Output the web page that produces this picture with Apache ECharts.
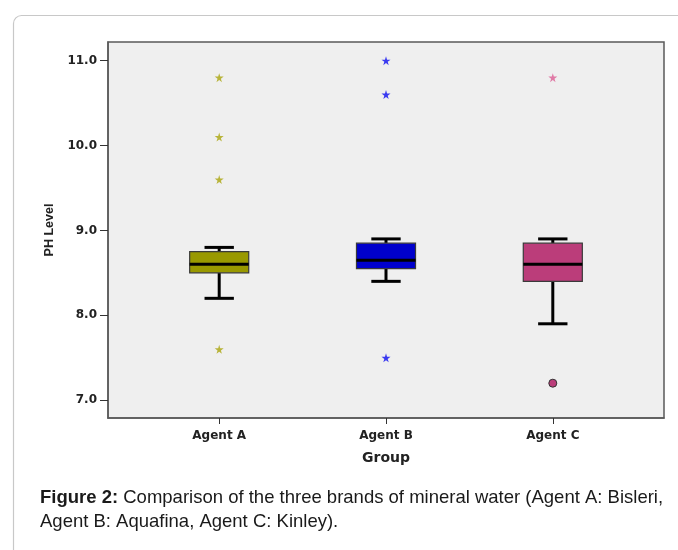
<!DOCTYPE html>
<html>
<head>
<meta charset="utf-8">
<script src="https://cdn.jsdelivr.net/npm/echarts@6/dist/echarts.min.js"></script>
<style>
html,body{margin:0;padding:0;background:#fff;}
#chart{width:678px;height:550px;}
</style>
</head>
<body>
<div id="chart"></div>
<script>
// ---- data ----
const categories = ['Agent A', 'Agent B', 'Agent C'];
const whiskerLow  = [8.2, 8.4, 7.9];
const q1Values    = [8.5, 8.55, 8.4];
const medianValues= [8.6, 8.65, 8.6];
const q3Values    = [8.75, 8.85, 8.85];
const whiskerHigh = [8.8, 8.9, 8.9];
const extremeA = [10.8, 10.1, 9.6, 7.6];   // stars
const extremeB = [11.0, 10.6, 7.5];        // stars
const extremeC = [10.8];                   // stars
const outlierC = [7.2];                    // circle
const yTicks = [7, 8, 9, 10, 11];
const xTicks = [1, 2, 3];

const boxColors = ['#999900', '#0000cc', '#bb3d7a'];
const starColors = ['#b8b43a', '#3a3af0', '#e07aa6'];

const boxData = categories.map((c, i) => [i + 1, whiskerLow[i], q1Values[i], medianValues[i], q3Values[i], whiskerHigh[i]]);

const starPath = 'path://M50,0 L61,35 L98,35 L68,57 L79,91 L50,70 L21,91 L32,57 L2,35 L39,35 Z';

function starSeries(vals, idx) {
  return {
    type: 'scatter',
    symbol: starPath,
    symbolSize: 9,
    itemStyle: { color: starColors[idx], opacity: 1 },
    data: vals.map(v => [idx + 1, v]),
    z: 5
  };
}

const chart = echarts.init(document.getElementById('chart'), null, { renderer: 'canvas' });
const axisFont = 'DejaVu Sans';

chart.setOption({
  animation: false,
  backgroundColor: '#ffffff',
  graphic: [
    { type: 'rect', left: 11, top: 13, shape: { width: 720, height: 600, r: 8 }, style: { fill: 'none', stroke: '#c8c8c8', lineWidth: 1.2 }, z: -10 },
    {
      type: 'text', left: 40, top: 486,
      style: {
        text: '{b|Figure 2:} Comparison of the three brands of mineral water (Agent A: Bisleri,\nAgent B: Aquafina, Agent C: Kinley).',
        font: '18.5px "Liberation Sans"',
        fill: '#1a1a1a',
        lineHeight: 24,
        rich: {
          b: { font: 'bold 18.5px "Liberation Sans"', fill: '#1a1a1a', lineHeight: 24 }
        }
      }
    }
  ],
  grid: {
    left: 108, top: 42, width: 556, height: 376,
    show: true, backgroundColor: '#efefef', borderColor: '#5a5a5a', borderWidth: 1.5
  },
  xAxis: {
    type: 'value', min: 1/3, max: 11/3,
    splitLine: { show: false },
    axisLine: { show: true, onZero: false, lineStyle: { color: '#5a5a5a', width: 1.5 } },
    axisTick: { show: true, customValues: xTicks, length: 6, lineStyle: { color: '#333', width: 1 } },
    axisLabel: {
      customValues: xTicks, formatter: v => categories[Math.round(v) - 1] || '',
      fontFamily: axisFont, fontWeight: 'bold', fontSize: 12, color: '#222', margin: 12
    },
    name: 'Group', nameLocation: 'middle', nameGap: 33,
    nameTextStyle: { fontFamily: axisFont, fontWeight: 'bold', fontSize: 14, color: '#222' }
  },
  yAxis: {
    type: 'value', min: 6.79, max: 11.22,
    splitLine: { show: false },
    axisLine: { show: true, lineStyle: { color: '#5a5a5a', width: 1.5 } },
    axisTick: { show: true, customValues: yTicks, length: 8, lineStyle: { color: '#333', width: 1 } },
    axisLabel: {
      customValues: yTicks, formatter: v => v.toFixed(1),
      fontFamily: axisFont, fontWeight: 'bold', fontSize: 12, color: '#222', margin: 11
    },
    name: 'PH Level', nameLocation: 'middle', nameRotate: 90, nameGap: 48,
    nameTextStyle: { fontFamily: 'Liberation Sans', fontWeight: 'bold', fontSize: 12.5, color: '#222' }
  },
  series: [
    {
      type: 'custom',
      data: boxData,
      z: 3,
      renderItem: function (params, api) {
        const x = api.value(0);
        const i = params.dataIndex;
        const boxW = api.size([0.354, 0])[0];
        const capW = api.size([0.176, 0])[0];
        const pLow = api.coord([x, api.value(1)]);
        const pQ1 = api.coord([x, api.value(2)]);
        const pMed = api.coord([x, api.value(3)]);
        const pQ3 = api.coord([x, api.value(4)]);
        const pHigh = api.coord([x, api.value(5)]);
        const cx = pQ1[0];
        const black = { stroke: '#000', lineWidth: 3 };
        return {
          type: 'group',
          children: [
            { type: 'line', shape: { x1: cx, y1: pLow[1], x2: cx, y2: pQ1[1] }, style: black },
            { type: 'line', shape: { x1: cx, y1: pHigh[1], x2: cx, y2: pQ3[1] }, style: black },
            { type: 'line', shape: { x1: cx - capW / 2, y1: pLow[1], x2: cx + capW / 2, y2: pLow[1] }, style: black },
            { type: 'line', shape: { x1: cx - capW / 2, y1: pHigh[1], x2: cx + capW / 2, y2: pHigh[1] }, style: black },
            { type: 'rect', shape: { x: cx - boxW / 2, y: pQ3[1], width: boxW, height: pQ1[1] - pQ3[1] },
              style: { fill: boxColors[i], stroke: '#3a3a3a', lineWidth: 1.2 } },
            { type: 'line', shape: { x1: cx - boxW / 2, y1: pMed[1], x2: cx + boxW / 2, y2: pMed[1] }, style: { stroke: '#000', lineWidth: 3 } }
          ]
        };
      }
    },
    starSeries(extremeA, 0),
    starSeries(extremeB, 1),
    starSeries(extremeC, 2),
    {
      type: 'scatter',
      symbol: 'circle',
      symbolSize: 8,
      itemStyle: { color: '#bb3d7a', borderColor: '#333', borderWidth: 1, opacity: 1 },
      data: outlierC.map(v => [3, v]),
      z: 5
    }
  ]
});
</script>
</body>
</html>
